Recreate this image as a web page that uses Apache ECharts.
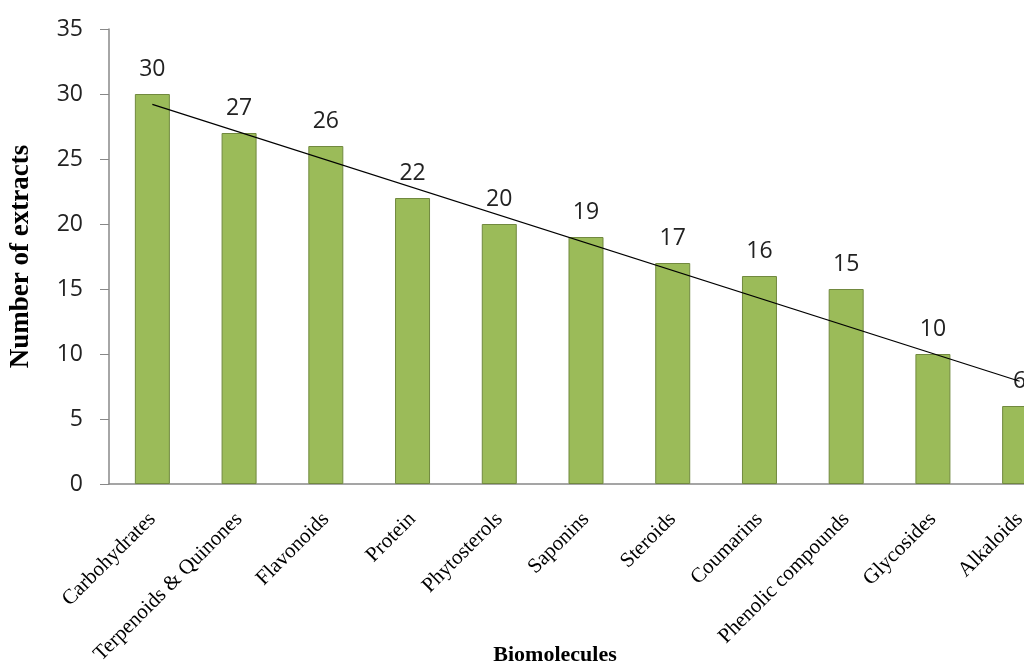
<!DOCTYPE html>
<html><head><meta charset="utf-8">
<script src="https://cdn.jsdelivr.net/npm/echarts@6/dist/echarts.min.js"></script>
<style>html,body{margin:0;padding:0;background:#fff}#c{width:1024px;height:662px}</style>
</head><body><div id="c"></div>
<script>
const categories = ["Carbohydrates","Terpenoids & Quinones","Flavonoids","Protein","Phytosterols","Saponins","Steroids","Coumarins","Phenolic compounds","Glycosides","Alkaloids"];
const values = [30,27,26,22,20,19,17,16,15,10,6];
const yTicks = [0,5,10,15,20,25,30,35];
// linear trendline endpoints (first and last category)
const trendEnds = [29.2, 7.9];

const chart = echarts.init(document.getElementById('c'));
chart.setOption({
  animation: false,
  title: {
    text: 'Biomolecules', left: 550, top: 639, textAlign: 'center',
    textStyle: {fontFamily: 'Liberation Serif', fontWeight: 'bold', fontSize: 22, color: '#000'}
  },
  grid: {left: 109, top: 29, width: 954, height: 455, containLabel: false, outerBoundsMode: 'none'},
  xAxis: {
    type: 'category', data: categories,
    axisLine: {lineStyle: {color: '#888', width: 1.5}},
    axisTick: {show: false},
    axisLabel: {rotate: 45, interval: 0, margin: 32, fontFamily: 'Liberation Serif', fontSize: 21, color: '#000'}
  },
  yAxis: {
    type: 'value', min: yTicks[0], max: yTicks[yTicks.length-1], interval: 5,
    name: 'Number of extracts', nameLocation: 'middle', nameGap: 74,
    nameTextStyle: {fontFamily: 'Liberation Serif', fontWeight: 'bold', fontSize: 27, color: '#000'},
    axisLine: {show: true, lineStyle: {color: '#888', width: 1.5}},
    axisTick: {show: true, length: 9, lineStyle: {color: '#888'}},
    splitLine: {show: false},
    axisLabel: {margin: 26, fontFamily: 'Open Sans', fontSize: 23, color: '#222'}
  },
  series: [{
    type: 'bar', data: values, barWidth: 35,
    itemStyle: {color: '#9BBB59', borderColor: '#71893F', borderWidth: 1},
    label: {show: true, position: 'top', distance: 13, fontFamily: 'Open Sans', fontSize: 23, color: '#222'},
    markLine: {
      silent: true, symbol: 'none', label: {show: false},
      lineStyle: {color: '#000', width: 1.2, type: 'solid'},
      data: [[{coord: [0, trendEnds[0]]}, {coord: [categories.length - 1, trendEnds[1]]}]]
    }
  }]
});
</script></body></html>
